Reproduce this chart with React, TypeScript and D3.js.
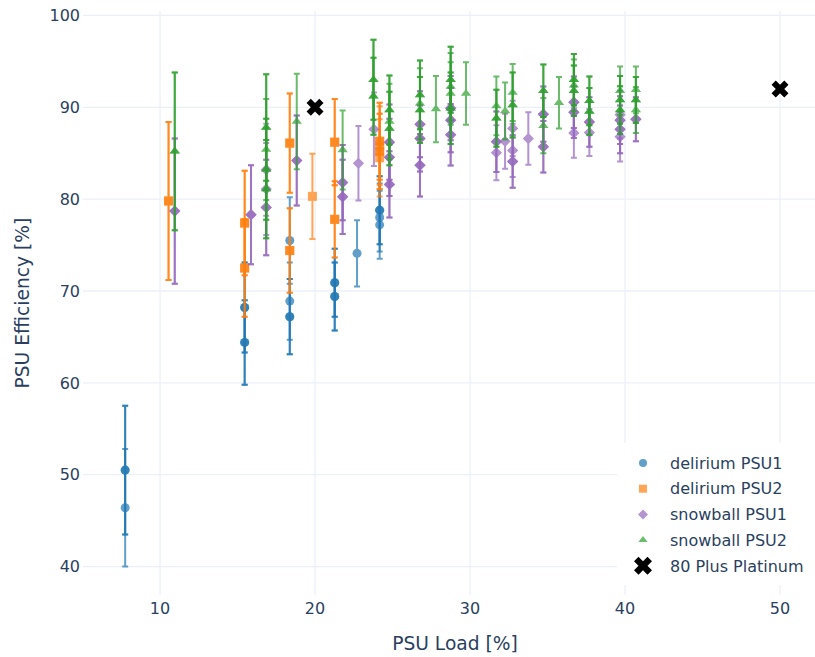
import React from "react";
import * as d3 from "d3";

// [load %, efficiency %, error, overlapping runs]
type Pt = [number, number, number, number];

const deliriumPSU1: Pt[] = [
  [7.75, 50.5, 7.0, 2], [7.75, 46.4, 6.4, 1],
  [15.46, 68.2, 4.9, 2], [15.46, 64.4, 4.6, 2],
  [18.37, 75.5, 4.7, 1], [18.37, 68.9, 4.2, 1], [18.37, 67.2, 4.1, 2],
  [21.27, 70.9, 3.7, 2], [21.27, 69.4, 3.7, 2],
  [22.71, 74.1, 3.6, 1],
  [24.17, 78.8, 3.7, 2], [24.17, 78.0, 3.7, 1], [24.17, 77.2, 3.7, 1],
];

const deliriumPSU2: Pt[] = [
  [10.55, 79.8, 8.6, 2],
  [15.46, 77.4, 5.7, 2], [15.46, 72.5, 5.3, 2],
  [18.37, 86.1, 5.4, 2], [18.37, 74.4, 4.6, 2],
  [19.83, 80.3, 4.65, 1],
  [21.27, 86.2, 4.7, 2], [21.27, 77.8, 4.15, 2],
  [24.17, 86.3, 4.2, 2], [24.17, 85.8, 4.3, 1], [24.17, 85.2, 4.1, 2], [24.17, 84.5, 4.2, 1],
];

const snowballPSU1: Pt[] = [
  [10.95, 78.7, 7.9, 2],
  [15.87, 78.3, 5.4, 2],
  [16.85, 83.2, 5.0, 1], [16.85, 81.1, 5.0, 1], [16.85, 79.1, 5.2, 2],
  [18.82, 84.2, 4.9, 2],
  [21.78, 81.8, 4.1, 2], [21.78, 80.25, 4.05, 2],
  [22.8, 83.9, 4.05, 1],
  [23.8, 87.6, 4.0, 1],
  [24.8, 86.2, 4.1, 2], [24.8, 84.55, 4.2, 2], [24.8, 81.6, 3.6, 2],
  [26.77, 88.15, 3.6, 2], [26.77, 86.6, 3.6, 2], [26.77, 83.7, 3.4, 2],
  [28.75, 89.9, 3.5, 2], [28.75, 88.6, 3.5, 2], [28.75, 87.0, 3.35, 2],
  [31.7, 86.25, 3.3, 2], [31.7, 85.05, 3.0, 1],
  [32.26, 86.3, 3.0, 1],
  [32.75, 87.7, 3.0, 1], [32.75, 85.3, 2.9, 1], [32.75, 84.1, 2.85, 2],
  [33.76, 86.6, 2.85, 1],
  [34.73, 89.25, 3.0, 2], [34.73, 85.7, 2.8, 2],
  [36.7, 90.55, 2.8, 2], [36.7, 89.45, 2.8, 2], [36.7, 87.2, 2.7, 1],
  [37.7, 88.4, 2.7, 2], [37.7, 87.25, 2.55, 1],
  [39.68, 89.2, 2.6, 1], [39.68, 88.6, 2.6, 2], [39.68, 87.6, 2.6, 2], [39.68, 86.8, 2.7, 1],
  [40.7, 88.7, 2.4, 2],
];

const snowballPSU2: Pt[] = [
  [10.95, 85.2, 8.6, 2],
  [16.85, 87.8, 5.8, 2], [16.85, 85.4, 5.5, 1], [16.85, 83.25, 5.5, 2], [16.85, 81.1, 5.35, 2],
  [18.82, 88.45, 5.2, 1],
  [21.78, 85.35, 4.3, 1],
  [23.77, 93.0, 4.35, 2], [23.77, 91.2, 4.2, 2],
  [24.8, 89.7, 3.75, 2], [24.8, 88.45, 4.1, 1], [24.8, 87.7, 4.0, 2],
  [26.77, 91.35, 3.75, 2], [26.77, 90.4, 3.85, 1], [26.77, 89.7, 3.6, 2],
  [27.8, 89.8, 3.6, 1],
  [28.75, 93.0, 3.6, 2], [28.75, 92.25, 3.65, 1], [28.75, 91.5, 3.4, 1], [28.75, 89.9, 3.9, 2],
  [29.74, 91.5, 3.4, 1],
  [31.7, 90.15, 3.2, 1], [31.7, 88.8, 3.1, 2],
  [32.26, 89.6, 3.1, 1],
  [32.75, 91.6, 3.1, 1], [32.75, 90.25, 3.55, 2],
  [34.73, 91.8, 2.85, 2], [34.73, 88.0, 3.0, 1],
  [35.74, 90.5, 2.8, 1],
  [36.7, 93.0, 2.8, 2], [36.7, 92.4, 2.8, 1], [36.7, 91.8, 2.75, 2],
  [37.7, 90.7, 2.65, 2], [37.7, 89.55, 2.55, 2],
  [39.68, 91.8, 2.65, 1], [39.68, 90.8, 2.6, 2], [39.68, 89.7, 2.6, 2],
  [40.7, 91.9, 2.55, 1], [40.7, 90.8, 2.5, 2], [40.7, 89.7, 2.5, 1],
];

const platinumLoad = [20, 50];
const platinumEff = [90, 92];

const xTicks = [10, 20, 30, 40, 50];
const yTicks = [40, 50, 60, 70, 80, 90, 100];

const seriesNames = ["delirium PSU1", "delirium PSU2", "snowball PSU1", "snowball PSU2"];
const seriesColors = ["#1f77b4", "#ff7f0e", "#9467bd", "#2ca02c"];
const seriesSymbols = ["circle", "square", "diamond", "triangle"];
const seriesData = [deliriumPSU1, deliriumPSU2, snowballPSU1, snowballPSU2];
const platinumName = "80 Plus Platinum";

const W = 815;
const H = 657;
const PL = 83, PR = 827, PT = 11.3, PB = 595;
const FONT = "'DejaVu Sans', Verdana, sans-serif";
const TXT = "#2a3f5f";
const GRID = "#ebf0f8";

function symbolPath(sym: string, r: number): string {
  if (sym === "square") return `M${r},${r}H${-r}V${-r}H${r}Z`;
  if (sym === "diamond") {
    const d = r * 1.25;
    return `M${d},0L0,${d}L${-d},0L0,${-d}Z`;
  }
  if (sym === "triangle") {
    const rt = (r * 2) / Math.sqrt(3);
    const r2 = r / 2;
    return `M${-rt},${r2}H${rt}L0,${-r}Z`;
  }
  if (sym === "x") {
    const a = r;
    return `M0,${a}l${a},${a}l${a},${-a}l${-a},${-a}l${a},${-a}l${-a},${-a}l${-a},${a}l${-a},${-a}l${-a},${a}l${a},${a}l${-a},${a}l${a},${a}Z`;
  }
  return `M${r},0A${r},${r} 0 1,1 0,${-r}A${r},${r} 0 0,1 ${r},0Z`;
}

export default function App() {
  const x = d3.scaleLinear().domain([5.03, 53.03]).range([PL, PR]);
  const y = d3.scaleLinear().domain([36.9, 100.45]).range([PB, PT]);
  const cap = 3;

  const legendY0 = 463;
  const legendStep = 25.7;

  return (
    <svg
      width={W}
      height={H}
      style={{ position: "absolute", left: 0, top: 0, background: "#fff" }}
      fontFamily={FONT}
    >
      <defs>
        <clipPath id="plotclip">
          <rect x={PL} y={PT} width={PR - PL} height={PB - PT} />
        </clipPath>
      </defs>
      {/* grid */}
      {yTicks.map((t) => (
        <line key={"gy" + t} x1={PL} x2={PR} y1={y(t)} y2={y(t)} stroke={GRID} strokeWidth={1.3} />
      ))}
      {xTicks.map((t) => (
        <line key={"gx" + t} x1={x(t)} x2={x(t)} y1={PT} y2={PB} stroke={GRID} strokeWidth={1.3} />
      ))}
      {/* tick labels */}
      {yTicks.map((t) => (
        <text key={"ty" + t} x={PL - 3} y={y(t)} dy="0.36em" textAnchor="end" fontSize={16} fill={TXT}>
          {t}
        </text>
      ))}
      {xTicks.map((t) => (
        <text key={"tx" + t} x={x(t)} y={PB + 13} dy="0.36em" textAnchor="middle" fontSize={16} fill={TXT}>
          {t}
        </text>
      ))}
      {/* axis titles */}
      <text x={(PL + PR) / 2} y={643} dy="0.36em" textAnchor="middle" fontSize={18.67} fill={TXT}>
        PSU Load [%]
      </text>
      <text
        transform={`translate(22,${(PT + PB) / 2}) rotate(-90)`}
        dy="0.36em"
        textAnchor="middle"
        fontSize={18.67}
        fill={TXT}
      >
        PSU Efficiency [%]
      </text>

      {/* data */}
      <g clipPath="url(#plotclip)">
        {seriesData.map((data, si) => (
          <g key={"s" + si}>
            {data.flatMap((p, pi) =>
              d3.range(p[3]).map((k) => {
                const cx = x(p[0]);
                const cy = y(p[1]);
                const yt = y(p[1] + p[2]);
                const yb = y(p[1] - p[2]);
                const c = seriesColors[si];
                return (
                  <g key={`p${si}-${pi}-${k}`} opacity={0.7}>
                    <path
                      d={`M${cx},${yt}V${yb}M${cx - cap},${yt}H${cx + cap}M${cx - cap},${yb}H${cx + cap}`}
                      stroke={c}
                      strokeWidth={2}
                      fill="none"
                    />
                    <path d={symbolPath(seriesSymbols[si], 4.5)} transform={`translate(${cx},${cy})`} fill={c} />
                  </g>
                );
              })
            )}
          </g>
        ))}
        {platinumLoad.map((l, i) => (
          <path
            key={"pl" + i}
            d={symbolPath("x", 4.25)}
            transform={`translate(${x(l)},${y(platinumEff[i])})`}
            fill="#000"
          />
        ))}
      </g>

      {/* legend */}
      <rect x={617} y={443} width={220} height={142} fill="#fff" />
      {seriesNames.map((n, i) => (
        <g key={"lg" + i} transform={`translate(643,${legendY0 + i * legendStep})`}>
          <path d={symbolPath(seriesSymbols[i], 4)} fill={seriesColors[i]} opacity={0.7} />
          <text x={27} dy="0.36em" fontSize={16} fill={TXT}>
            {n}
          </text>
        </g>
      ))}
      <g transform={`translate(643,${legendY0 + 4 * legendStep})`}>
        <path d={symbolPath("x", 4.5)} fill="#000" />
        <text x={27} dy="0.36em" fontSize={16} fill={TXT}>
          {platinumName}
        </text>
      </g>
    </svg>
  );
}
